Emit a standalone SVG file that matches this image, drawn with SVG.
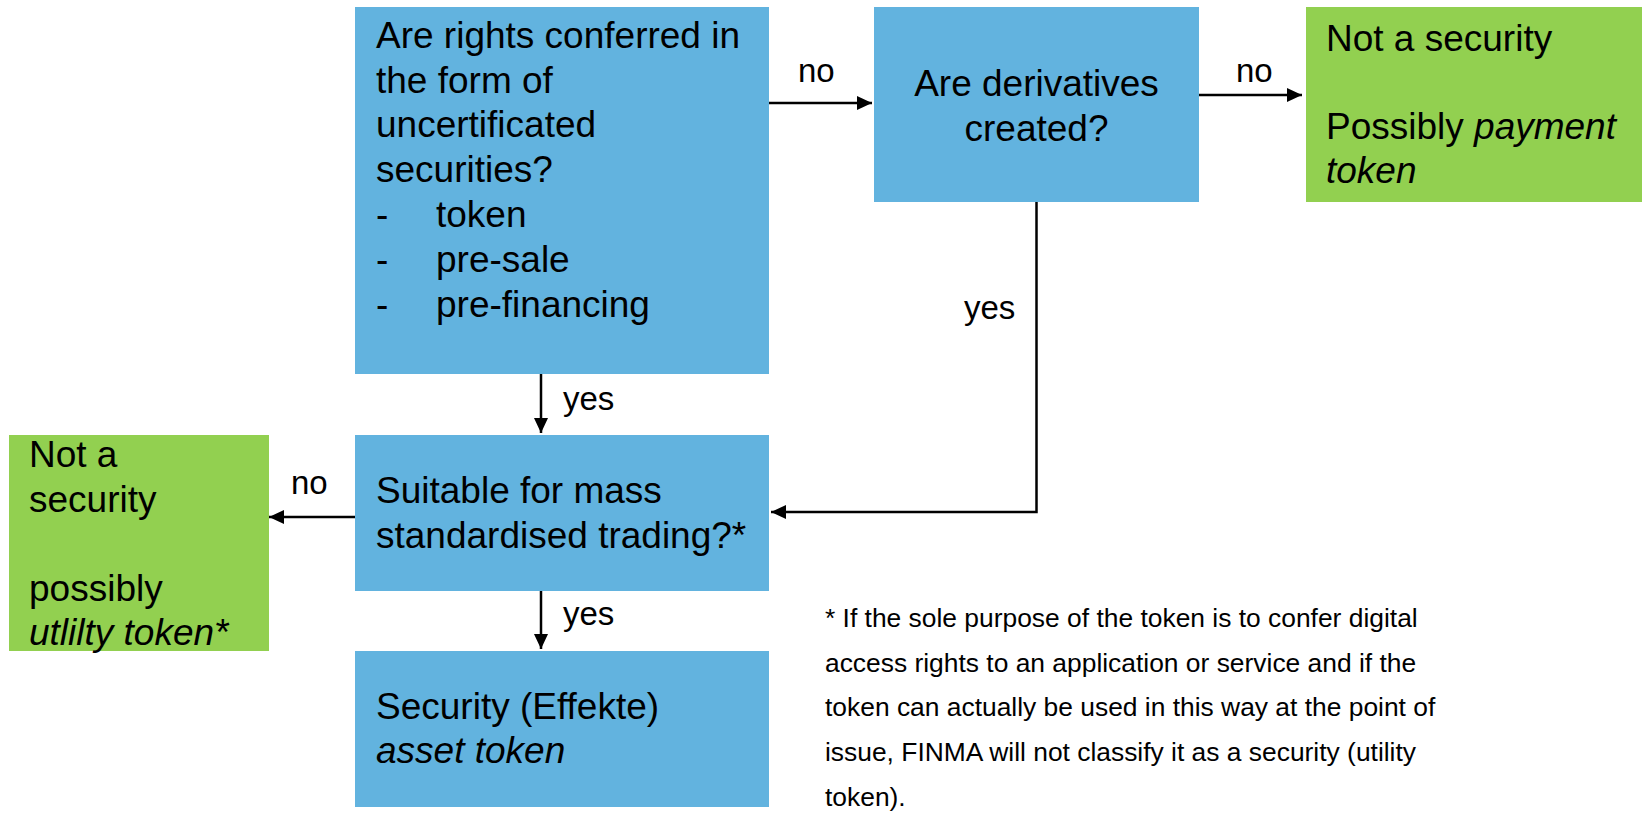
<svg xmlns="http://www.w3.org/2000/svg" width="1642" height="813" viewBox="0 0 1642 813">
<style>
.blue{fill:#62B3DF}
.green{fill:#92D050}
text{font-family:"Liberation Sans",Arial,sans-serif;fill:#000}
.t{font-size:37px}
.lbl{font-size:33px}
.fn{font-size:26.4px}
.it{font-style:italic}
.c{stroke:#000;stroke-width:2.5;fill:none}
</style>
<defs>
<marker id="ah" markerUnits="userSpaceOnUse" markerWidth="16" markerHeight="14" refX="15" refY="7" orient="auto">
<path d="M0,0 L15,7 L0,14 Z" fill="#000"/>
</marker>
</defs>
<rect width="1642" height="813" fill="#fff"/>
<g id="connectors">
<line class="c" x1="769" y1="103" x2="872" y2="103" marker-end="url(#ah)"/>
<line class="c" x1="1199" y1="95" x2="1302" y2="95" marker-end="url(#ah)"/>
<polyline class="c" points="1036.5,202 1036.5,512 771,512" marker-end="url(#ah)"/>
<line class="c" x1="541" y1="374" x2="541" y2="433" marker-end="url(#ah)"/>
<line class="c" x1="355" y1="517" x2="269" y2="517" marker-end="url(#ah)"/>
<line class="c" x1="541" y1="591" x2="541" y2="649" marker-end="url(#ah)"/>
<text class="lbl" x="798" y="82">no</text>
<text class="lbl" x="1236" y="82">no</text>
<text class="lbl" x="964" y="319">yes</text>
<text class="lbl" x="563" y="410">yes</text>
<text class="lbl" x="291" y="494">no</text>
<text class="lbl" x="563" y="625">yes</text>
</g>
<g id="q1">
<rect class="blue" x="355" y="7" width="414" height="367"/>
<text class="t" x="376" y="48">Are rights conferred in</text>
<text class="t" x="376" y="93">the form of</text>
<text class="t" x="376" y="137">uncertificated</text>
<text class="t" x="376" y="182">securities?</text>
<text class="t" x="376" y="227">-</text><text class="t" x="436" y="227">token</text>
<text class="t" x="376" y="272">-</text><text class="t" x="436" y="272">pre-sale</text>
<text class="t" x="376" y="317">-</text><text class="t" x="436" y="317">pre-financing</text>
</g>
<g id="q2">
<rect class="blue" x="874" y="7" width="325" height="195"/>
<text class="t" x="1036.5" y="96" text-anchor="middle">Are derivatives</text>
<text class="t" x="1036.5" y="141" text-anchor="middle">created?</text>
</g>
<g id="payment">
<rect class="green" x="1306" y="7" width="336" height="195"/>
<text class="t" x="1326" y="51">Not a security</text>
<text class="t" x="1326" y="139">Possibly <tspan class="it">payment</tspan></text>
<text class="t it" x="1326" y="183">token</text>
</g>
<g id="q3">
<rect class="blue" x="355" y="435" width="414" height="156"/>
<text class="t" x="376" y="503">Suitable for mass</text>
<text class="t" x="376" y="548">standardised trading?*</text>
</g>
<g id="utility">
<rect class="green" x="9" y="435" width="260" height="216"/>
<text class="t" x="29" y="467">Not a</text>
<text class="t" x="29" y="512">security</text>
<text class="t" x="29" y="601">possibly</text>
<text class="t it" x="29" y="645">utlilty token*</text>
</g>
<g id="asset">
<rect class="blue" x="355" y="651" width="414" height="156"/>
<text class="t" x="376" y="719">Security (Effekte)</text>
<text class="t it" x="376" y="763">asset token</text>
</g>
<g id="footnote">
<text class="fn" x="825" y="627">* If the sole purpose of the token is to confer digital</text>
<text class="fn" x="825" y="672">access rights to an application or service and if the</text>
<text class="fn" x="825" y="716">token can actually be used in this way at the point of</text>
<text class="fn" x="825" y="761">issue, FINMA will not classify it as a security (utility</text>
<text class="fn" x="825" y="806">token).</text>
</g>
</svg>
